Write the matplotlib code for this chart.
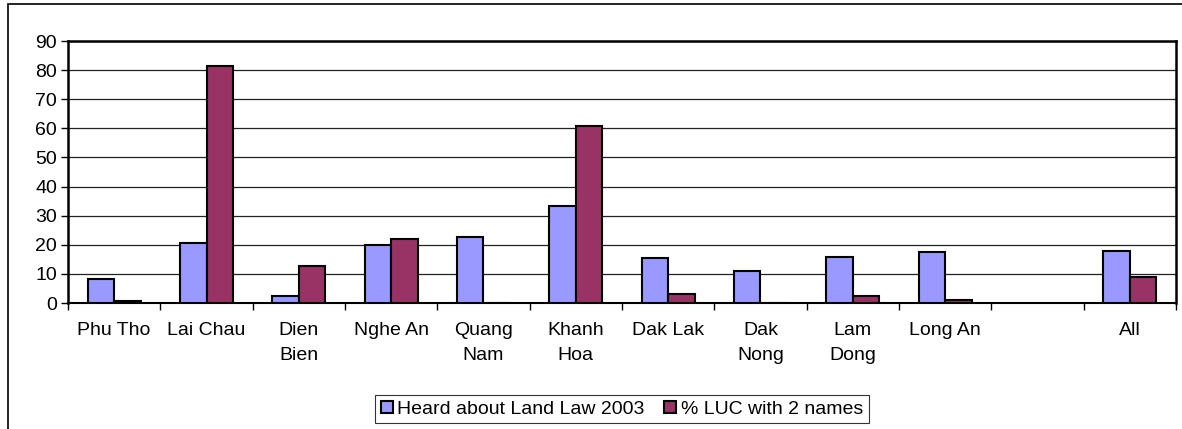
import numpy as np
import matplotlib.pyplot as plt
from matplotlib.patches import Rectangle

plt.rcParams['font.family'] = ['Liberation Sans', 'DejaVu Sans']

# 数据
categories = ['Phu Tho', 'Lai Chau', 'Dien\nBien', 'Nghe An', 'Quang\nNam', 'Khanh\nHoa',
              'Dak Lak', 'Dak\nNong', 'Lam\nDong', 'Long An', '', 'All']
heard = [8.2, 20.5, 2.5, 20.0, 22.8, 33.4, 15.4, 11.1, 15.7, 17.6, np.nan, 17.9]
luc2 = [0.6, 81.4, 12.8, 22.0, 0.0, 60.7, 3.1, 0.0, 2.5, 1.2, np.nan, 9.0]
series_names = ['Heard about Land Law 2003', '% LUC with 2 names']

fig = plt.figure(figsize=(11.82, 4.29), dpi=100)
ax = fig.add_axes([68 / 1182, 1 - 303 / 429, 1108 / 1182, 262 / 429])

# 外框
fig.patches.append(Rectangle((8 / 1182, -0.1), 1.2, 1.1 - 4 / 429, transform=fig.transFigure,
                             fill=False, edgecolor='black', linewidth=1.2))

x = np.arange(len(categories))
w = 1 / 3.5
ax.bar(x - w / 2, heard, w, color='#9999FF', edgecolor='black', linewidth=1.5,
       label=series_names[0], zorder=3)
ax.bar(x + w / 2, luc2, w, color='#993366', edgecolor='black', linewidth=1.5,
       label=series_names[1], zorder=3)

ax.set_xlim(-0.5, len(categories) - 0.5)
ax.set_ylim(0, 90)
ax.set_yticks(range(0, 91, 10))
ax.yaxis.grid(True, color='#222222', linewidth=0.9, zorder=0)

ax.set_xticks(x)
ax.set_xticklabels(categories, fontsize=14, linespacing=1.55, va='top')
ax.tick_params(axis='x', which='major', length=0, pad=14)
ax.set_xticks(np.arange(-0.5, len(categories), 1), minor=True)
ax.tick_params(axis='x', which='minor', length=5, width=1, direction='out')
ax.tick_params(axis='y', labelsize=14, length=5, width=1, direction='out', pad=3)

for s in ax.spines.values():
    s.set_linewidth(1.8)
    s.set_color('black')
ax.spines['bottom'].set_linewidth(1.5)

leg = ax.legend(loc='upper center', bbox_to_anchor=(0.5, -0.35), ncol=2, fontsize=14,
                frameon=True, fancybox=False, edgecolor='black', handlelength=0.6,
                handleheight=0.6, handletextpad=0.25, columnspacing=1.0, borderpad=0.3,
                borderaxespad=0)
leg.get_frame().set_linewidth(0.8)

fig.savefig('out.png', dpi=100)
